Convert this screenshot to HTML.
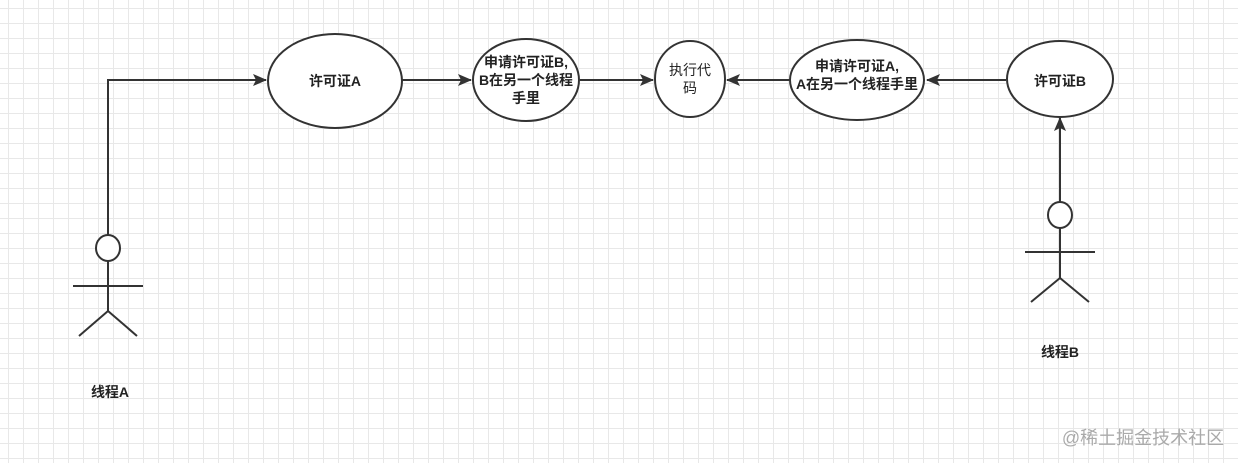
<!DOCTYPE html>
<html><head><meta charset="utf-8"><style>
html,body{margin:0;padding:0;}
body{width:1238px;height:463px;overflow:hidden;background:#fff;
background-image:linear-gradient(#e8e8e8 1px,transparent 1px),linear-gradient(90deg,#e8e8e8 1px,transparent 1px);
background-size:15px 15px;background-position:8px 8px;}
svg{position:absolute;left:0;top:0;}
text{font-family:"Liberation Sans","Noto Sans CJK SC",sans-serif;font-size:14px;fill:#222;text-anchor:middle;}
.b{font-weight:bold;}
</style></head><body>
<svg width="1238" height="463" viewBox="0 0 1238 463">
<defs><marker id="a" markerWidth="14" markerHeight="12" refX="13" refY="6" orient="auto" markerUnits="userSpaceOnUse"><path d="M0,0 L14,6 L0,12 L3,6 z" fill="#333"/></marker></defs>
<g stroke="#333" stroke-width="2" fill="#fff">
<polyline points="108,235 108,80 266,80" fill="none" marker-end="url(#a)"/>
<line x1="402" y1="80" x2="471" y2="80" marker-end="url(#a)"/>
<line x1="580" y1="80" x2="653" y2="80" marker-end="url(#a)"/>
<line x1="790" y1="80" x2="727" y2="80" marker-end="url(#a)"/>
<line x1="1006" y1="80" x2="927" y2="80" marker-end="url(#a)"/>
<line x1="1060" y1="202" x2="1060" y2="118" marker-end="url(#a)"/>
<ellipse cx="335" cy="81" rx="67" ry="47"/>
<ellipse cx="526" cy="80" rx="53" ry="41"/>
<ellipse cx="690" cy="79" rx="35" ry="38"/>
<ellipse cx="857" cy="80" rx="67" ry="40"/>
<ellipse cx="1060" cy="79" rx="53" ry="38"/>
<ellipse cx="108" cy="248" rx="12" ry="13"/>
<path d="M108,261 V311 M73,286 H143 M108,311 L79,336 M108,311 L137,336" fill="none"/>
<ellipse cx="1060" cy="215" rx="12" ry="13"/>
<path d="M1060,228 V278 M1025,252 H1095 M1060,278 L1031,302 M1060,278 L1089,302" fill="none"/>
</g>
<text class="b" x="335" y="86">许可证A</text>
<text class="b" x="526" y="67">申请许可证B,</text>
<text class="b" x="526" y="85">B在另一个线程</text>
<text class="b" x="526" y="103">手里</text>
<text x="690" y="75">执行代</text>
<text x="690" y="93">码</text>
<text class="b" x="857" y="71">申请许可证A,</text>
<text class="b" x="857" y="89">A在另一个线程手里</text>
<text class="b" x="1060" y="86">许可证B</text>
<text class="b" x="110" y="397">线程A</text>
<text class="b" x="1060" y="357">线程B</text>
<text x="1143" y="444" style="font-size:18px;fill:#aaa;">@稀土掘金技术社区</text>
</svg>
</body></html>
